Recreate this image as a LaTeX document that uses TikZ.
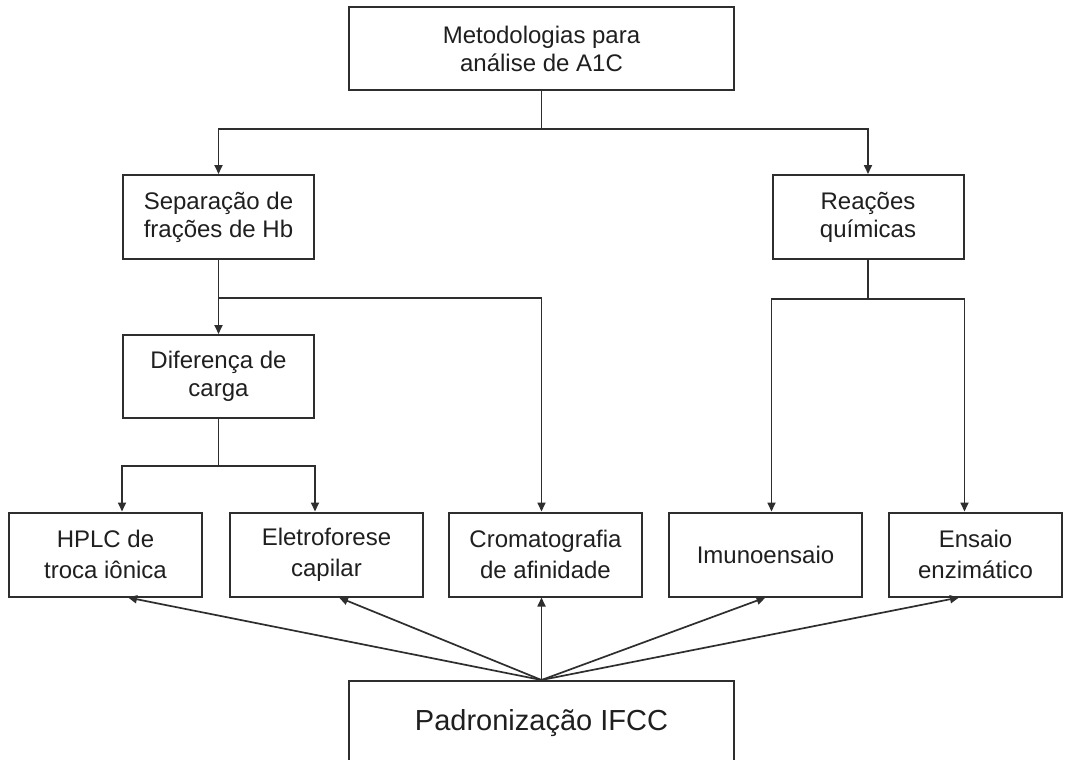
\documentclass[tikz,border=0pt]{standalone}
\usepackage{fontspec}
\setmainfont{Liberation Sans}
\usetikzlibrary{arrows.meta}
\begin{document}
\begin{tikzpicture}[x=1pt,y=-1pt,
  box/.style={draw=black!82,line width=2pt,fill=white,rectangle,inner sep=0pt,
    align=center,text=black!88,font=\fontsize{24}{28}\selectfont,minimum height=84pt},
  lowbox/.style={box,font=\fontsize{24}{31}\selectfont},
  conn/.style={draw=black!82,line width=1.7pt},
  arr/.style={conn,-{Triangle[length=9pt,width=8pt]}}]
\clip (0,0) rectangle (1072,760);
\fill[white] (0,0) rectangle (1072,760);
\node[box,minimum width=385pt,minimum height=83pt] (top) at (541.5,48.5) {Metodologias para\\análise de A1C};
\node[box,minimum width=191pt] (sep) at (218.5,217) {Separação de\\frações de Hb};
\node[box,minimum width=191pt] (rea) at (868,217) {Reações\\químicas};
\node[box,minimum width=191pt,minimum height=83pt] (dif) at (218.5,376.5) {Diferença de\\carga};
\node[lowbox,minimum width=193pt] (hplc) at (105.5,554.5) {HPLC de\\troca iônica};
\node[lowbox,minimum width=193pt] (elet) at (326.5,554.5) {Eletroforese\\capilar};
\node[lowbox,minimum width=193pt] (crom) at (545.5,554.5) {Cromatografia\\de afinidade};
\node[lowbox,minimum width=193pt] (imuno) at (765.5,554.5) {Imunoensaio};
\node[lowbox,minimum width=173pt] (ensaio) at (975.5,554.5) {Ensaio\\enzimático};
\node[box,minimum width=385pt,anchor=north,font=\fontsize{29}{34}\selectfont] (pad) at (541.5,680) {Padronização IFCC};
% top branch
\draw[conn] (top.south) -- ++(0,38) coordinate (tj);
\draw[arr] (tj) -| (sep.north);
\draw[arr] (tj) -| (rea.north);
% separation branch
\draw[arr] (sep.south) -- ++(0,38) coordinate (sj) -- (dif.north);
\draw[arr] (sj) -| (top.south |- crom.north);
% difference branch
\draw[conn] (dif.south) -- ++(0,47) coordinate (dj);
\draw[arr] (dj) -| (dif.west |- hplc.north);
\draw[arr] (dj) -| (dif.east |- elet.north);
% reactions branch
\draw[conn] (rea.south) -- ++(0,39) coordinate (rj);
\draw[arr] (rj) -| (rea.west |- imuno.north);
\draw[arr] (rj) -| (rea.east |- ensaio.north);
% standardization
\draw[arr] (pad.north) -- ([xshift=22.5pt]hplc.south);
\draw[arr] (pad.north) -- ([xshift=12.5pt]elet.south);
\draw[arr] (pad.north) -- (pad.north |- crom.south);
\draw[arr] (pad.north) -- (imuno.south);
\draw[arr] (pad.north) -- ([xshift=-16.5pt]ensaio.south);
\end{tikzpicture}
\end{document}
